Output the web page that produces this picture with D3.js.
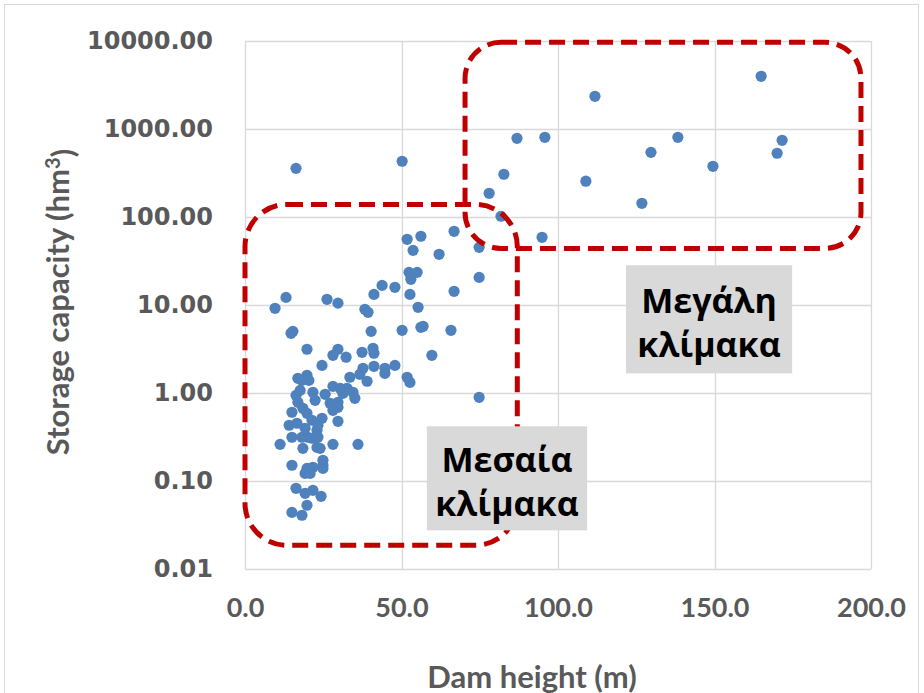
<!DOCTYPE html>
<html>
<head>
<meta charset="utf-8">
<script src="https://cdn.jsdelivr.net/npm/d3@7"></script>
<style>
  body { margin: 0; background: #fff; }
  .canvas { width: 924px; height: 693px; }
  .ytick { font-family: "DejaVu Sans", Verdana, sans-serif; font-weight: bold; font-size: 24px; fill: #595959; }
  .xtick { font-family: Lato, "Open Sans", sans-serif; font-weight: 700; font-size: 27px; fill: #595959; }
  .title { font-family: Lato, "Open Sans", sans-serif; font-weight: 700; font-size: 31px; fill: #595959; }
  .note { font-family: "Open Sans", "Noto Sans", sans-serif; font-weight: 700; font-size: 34px; fill: #000; }
</style>
</head>
<body>
<div class="canvas"></div>
<script>
// dam height (m) and storage capacity (hm3)
const damHeight = [
  164.9, 111.8, 86.9, 95.8, 138.3, 171.6, 129.7, 170.0, 149.5, 82.7,
  108.9, 78.0, 126.8, 81.8, 66.8, 94.9, 74.8, 16.3, 50.2, 51.8,
  56.2, 53.7, 62.0, 52.4, 55.0, 53.0, 74.8, 43.8, 47.9, 41.2,
  52.7, 66.8, 55.3, 13.1, 9.6, 26.2, 29.7, 38.3, 39.3, 15.3,
  14.7, 40.3, 50.2, 56.2, 56.9, 65.8, 19.8, 29.7, 28.1, 32.3,
  37.4, 40.9, 41.2, 59.7, 24.6, 41.2, 44.7, 47.9, 44.7, 37.7,
  51.8, 52.7, 16.9, 19.8, 33.5, 36.7, 39.0, 74.8, 18.2, 21.7,
  16.3, 25.6, 28.1, 30.4, 32.6, 34.5, 31.3, 35.1, 27.2, 29.7,
  28.1, 29.7, 16.9, 18.5, 15.0, 19.8, 24.6, 29.7, 16.6, 19.2,
  23.0, 20.1, 15.0, 11.2, 18.2, 21.4, 23.3, 18.5, 23.0, 28.1,
  36.1, 24.0, 15.0, 19.8, 21.7, 24.9, 24.9, 19.2, 16.3, 21.7,
  24.3, 19.8, 15.0, 18.2, 20.8, 24.9, 20.4, 19.2, 22.4, 21.4,
  23.3, 17.6, 14.1
];
const storage = [
  3970, 2353, 784, 805, 805, 744, 543, 530, 377, 306,
  255, 186, 143, 102, 68.8, 58.8, 45.2, 357, 430, 55.8,
  60.4, 41.8, 37.7, 23.5, 23.5, 19.6, 20.6, 16.7, 15.9, 13.2,
  13.2, 14.3, 9.42, 12.2, 9.17, 11.6, 10.5, 8.93, 8.26, 5.02,
  4.77, 5.02, 5.16, 5.58, 5.73, 5.16, 3.14, 3.14, 2.68, 2.55,
  2.90, 3.22, 2.83, 2.68, 2.06, 2.01, 1.91, 2.06, 1.67, 1.91,
  1.51, 1.32, 1.47, 1.59, 1.51, 1.63, 1.36, 0.894, 1.39, 1.02,
  0.94, 0.967, 1.19, 1.13, 1.13, 1.02, 0.99, 0.87, 0.764, 0.784,
  0.636, 0.688, 0.784, 0.67, 0.604, 0.588, 0.516, 0.477, 0.453, 0.397,
  0.377, 0.314, 0.314, 0.261, 0.314, 0.306, 0.314, 0.235, 0.241, 0.261,
  0.261, 0.235, 0.151, 0.139, 0.143, 0.151, 0.172, 0.122, 0.0826, 0.0784,
  0.067, 0.053, 0.044, 0.0408, 0.122, 0.139, 1.39, 0.0725, 0.826, 0.49,
  0.43, 1.07, 0.43
];
const xTicks = [0, 50, 100, 150, 200];
const yTicks = [0.01, 0.1, 1, 10, 100, 1000, 10000];

const data = damHeight.map((h, i) => ({ h: h, s: storage[i] }));

const width = 924;
const height = 693;
const margin = { top: 41, right: 53, bottom: 124, left: 245 };
const innerWidth = width - margin.left - margin.right;
const innerHeight = height - margin.top - margin.bottom;

const svg = d3
  .select(".canvas")
  .append("svg")
  .attr("width", width)
  .attr("height", height);

// outer chart border
svg
  .append("rect")
  .attr("x", 4.5)
  .attr("y", 4.5)
  .attr("width", 914)
  .attr("height", 720)
  .attr("fill", "none")
  .attr("stroke", "#d9d9d9");

const g = svg.append("g").attr("transform", `translate(${margin.left}, ${margin.top})`);

const x = d3.scaleLinear().domain([0, 200]).range([0, innerWidth]);
const y = d3.scaleLog().domain([0.01, 10000]).range([innerHeight, 0]);

// grid
g.selectAll(".hgrid")
  .data(yTicks)
  .enter()
  .append("line")
  .attr("x1", 0)
  .attr("x2", innerWidth)
  .attr("y1", (d) => Math.round(y(d)) + 0.5)
  .attr("y2", (d) => Math.round(y(d)) + 0.5)
  .attr("stroke", "#d9d9d9")
  .attr("stroke-width", 1.3);

g.selectAll(".vgrid")
  .data(xTicks)
  .enter()
  .append("line")
  .attr("x1", (d) => Math.round(x(d)) + 0.5)
  .attr("x2", (d) => Math.round(x(d)) + 0.5)
  .attr("y1", 0)
  .attr("y2", innerHeight)
  .attr("stroke", "#d9d9d9")
  .attr("stroke-width", 1.3);

// axes
const yAxis = d3.axisLeft(y).tickValues(yTicks).tickFormat(d3.format(".2f")).tickSize(0).tickPadding(32);
const xAxis = d3.axisBottom(x).tickValues(xTicks).tickFormat(d3.format(".1f")).tickSize(0).tickPadding(29);

g.append("g").call(yAxis).call((a) => a.select(".domain").remove())
  .selectAll("text").attr("class", "ytick").attr("fill", null);
g.append("g").attr("transform", `translate(0, ${innerHeight})`).call(xAxis)
  .call((a) => a.select(".domain").remove())
  .selectAll("text").attr("class", "xtick").attr("fill", null);

// points
g.selectAll("circle")
  .data(data)
  .enter()
  .append("circle")
  .attr("cx", (d) => x(d.h))
  .attr("cy", (d) => y(d.s))
  .attr("r", 5.6)
  .attr("fill", "#4f81bd");

// dashed regions, in data units
const regions = [
  { x0: 0, x1: 87, y0: 0.0186, y1: 139, r: 42 },
  { x0: 70.3, x1: 196.8, y0: 44, y1: 9670, r: 36 },
];
g.selectAll(".region")
  .data(regions)
  .enter()
  .append("rect")
  .attr("x", (d) => x(d.x0))
  .attr("y", (d) => y(d.y1))
  .attr("width", (d) => x(d.x1) - x(d.x0))
  .attr("height", (d) => y(d.y0) - y(d.y1))
  .attr("rx", (d) => d.r)
  .attr("fill", "none")
  .attr("stroke", "#c00000")
  .attr("stroke-width", 5)
  .attr("stroke-dasharray", "16 8");

// labels
const notes = [
  { x0: 121.7, x1: 174.8, y0: 1.67, y1: 28.3, lines: ["Μεγάλη", "κλίμακα"] },
  { x0: 58.1, x1: 109.3, y0: 0.0275, y1: 0.418, lines: ["Μεσαία", "κλίμακα"] },
];
const note = g.selectAll(".note-box").data(notes).enter().append("g");
note
  .append("rect")
  .attr("x", (d) => x(d.x0))
  .attr("y", (d) => y(d.y1))
  .attr("width", (d) => x(d.x1) - x(d.x0))
  .attr("height", (d) => y(d.y0) - y(d.y1))
  .attr("fill", "#d9d9d9");
note
  .append("text")
  .attr("class", "note")
  .attr("text-anchor", "middle")
  .attr("x", (d) => (x(d.x0) + x(d.x1)) / 2)
  .attr("y", (d) => (y(d.y0) + y(d.y1)) / 2)
  .selectAll("tspan")
  .data((d) => d.lines.map((t, i) => ({ t: t, i: i, cx: (x(d.x0) + x(d.x1)) / 2 })))
  .enter()
  .append("tspan")
  .attr("x", (d) => d.cx)
  .attr("dy", (d) => (d.i === 0 ? "-0.2em" : "1.32em"))
  .text((d) => d.t);

// axis titles
svg
  .append("text")
  .attr("class", "title")
  .attr("text-anchor", "middle")
  .attr("x", 532)
  .attr("y", 688)
  .text("Dam height (m)");

const yt = svg
  .append("text")
  .attr("class", "title")
  .attr("text-anchor", "middle")
  .attr("transform", "translate(69, 302) rotate(-90)");
yt.append("tspan").text("Storage capacity (hm");
yt.append("tspan").attr("dy", "-0.45em").attr("font-size", "20px").text("3");
yt.append("tspan").attr("dy", "0.45em").text(")");
</script>
</body>
</html>
